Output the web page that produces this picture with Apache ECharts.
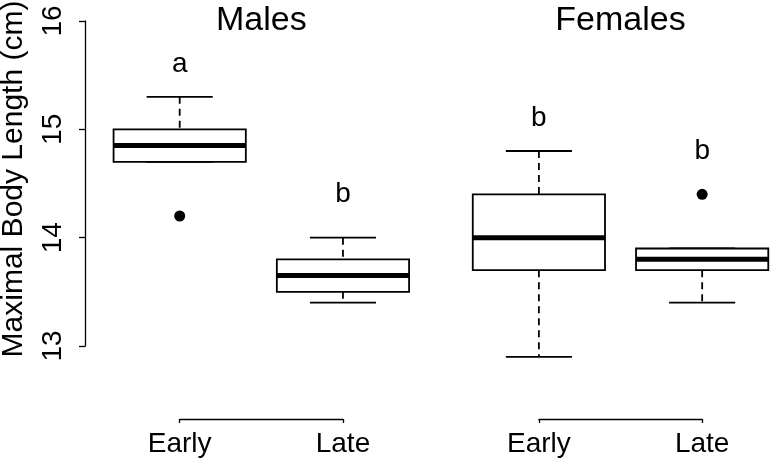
<!DOCTYPE html>
<html><head><meta charset="utf-8">
<script src="https://cdn.jsdelivr.net/npm/echarts@6/dist/echarts.min.js"></script>
<style>html,body{margin:0;padding:0;background:#fff}#c{width:774px;height:466px}</style>
</head><body><div id="c"></div>
<script>
// ---- data ----
const groups = ['Males', 'Females'];
const periods = ['Early', 'Late'];
const positions = [1, 2, 3.2, 4.2];
const whiskerLow = [14.7, 13.4, 12.9, 13.4];
const q1 = [14.7, 13.5, 13.7, 13.7];
const medians = [14.85, 13.65, 14.0, 13.8];
const q3 = [15.0, 13.8, 14.4, 13.9];
const whiskerHigh = [15.3, 14.0, 14.8, 13.9];
const outliers = [[14.2], [], [], [14.4]];
const letters = ['a', 'b', 'b', 'b'];
const letterY = [15.6, 14.4, 15.1, 14.8];
const yMin = 13, yMax = 16, yStep = 1;
const titleY = 16;
const yTitle = 'Maximal Body Length (cm)';

// ---- layout ----
const FONT = '"Liberation Sans", Arial, Helvetica, sans-serif';
const X_MIN = 0.42, X_MAX = 4.64;
const GRID_LEFT = 85, GRID_TOP = 21, GRID_H = 325, CHART_W = 774;
const BOX_W = 0.81, CAP_W = 0.405;
const ppu = (CHART_W - GRID_LEFT) / (X_MAX - X_MIN);

const chart = echarts.init(document.getElementById('c'), null, {renderer: 'canvas'});

const grids = [{left: GRID_LEFT, top: GRID_TOP, height: GRID_H, width: CHART_W - GRID_LEFT, outerBoundsMode: 'none', containLabel: false}];
const xAxes = [{gridIndex: 0, type: 'value', min: X_MIN, max: X_MAX, show: false}];
const yAxes = [{
  gridIndex: 0, type: 'value', min: yMin, max: yMax, interval: yStep,
  axisLine: {show: true, lineStyle: {color: '#000', width: 1.3}},
  axisTick: {show: true, length: 6, lineStyle: {color: '#000', width: 1.3}},
  splitLine: {show: false},
  axisLabel: {rotate: 90, fontSize: 28, margin: 18, color: '#000', fontFamily: FONT, showMinLabel: true, showMaxLabel: true}
}];
groups.forEach((g, gi) => {
  const a = positions[gi * 2], b = positions[gi * 2 + 1];
  grids.push({left: GRID_LEFT + (a - X_MIN) * ppu, width: (b - a) * ppu, top: 418, height: 1, outerBoundsMode: 'none', containLabel: false});
  xAxes.push({
    gridIndex: gi + 1, type: 'category', data: periods, boundaryGap: false,
    axisLine: {show: true, lineStyle: {color: '#000', width: 1.3}},
    axisTick: {show: true, length: 4, lineStyle: {color: '#000', width: 1.3}},
    axisLabel: {fontSize: 28, margin: 11, color: '#000', fontFamily: FONT}
  });
  yAxes.push({gridIndex: gi + 1, type: 'value', show: false});
});

const boxData = positions.map((p, i) => [p, whiskerLow[i], q1[i], medians[i], q3[i], whiskerHigh[i]]);
const outlierData = [];
outliers.forEach((arr, i) => arr.forEach(v => outlierData.push([positions[i], v])));
const letterData = positions.map((p, i) => [p, letterY[i]]);
const titleData = groups.map((g, gi) => [(positions[gi * 2] + positions[gi * 2 + 1]) / 2, titleY]);

const LW = 1.8;
function renderBox(params, api) {
  const x = api.value(0), lo = api.value(1), a = api.value(2), m = api.value(3), b = api.value(4), hi = api.value(5);
  const c = (vx, vy) => api.coord([vx, vy]);
  const children = [];
  const dash = {stroke: '#000', lineWidth: LW, lineDash: [7, 5]};
  const solid = {stroke: '#000', lineWidth: LW};
  const pHi = c(x, hi), pB = c(x, b), pA = c(x, a), pLo = c(x, lo);
  if (hi > b) children.push({type: 'line', shape: {x1: pHi[0], y1: pHi[1], x2: pB[0], y2: pB[1]}, style: dash});
  if (lo < a) children.push({type: 'line', shape: {x1: pA[0], y1: pA[1], x2: pLo[0], y2: pLo[1]}, style: dash});
  const capL1 = c(x - CAP_W / 2, hi), capR1 = c(x + CAP_W / 2, hi);
  children.push({type: 'line', shape: {x1: capL1[0], y1: capL1[1], x2: capR1[0], y2: capR1[1]}, style: solid});
  const capL2 = c(x - CAP_W / 2, lo), capR2 = c(x + CAP_W / 2, lo);
  children.push({type: 'line', shape: {x1: capL2[0], y1: capL2[1], x2: capR2[0], y2: capR2[1]}, style: solid});
  const tl = c(x - BOX_W / 2, b), br = c(x + BOX_W / 2, a);
  children.push({type: 'rect', shape: {x: tl[0], y: tl[1], width: br[0] - tl[0], height: br[1] - tl[1]}, style: {fill: '#fff', stroke: '#000', lineWidth: LW}});
  const mL = c(x - BOX_W / 2, m), mR = c(x + BOX_W / 2, m);
  children.push({type: 'line', shape: {x1: mL[0], y1: mL[1], x2: mR[0], y2: mR[1]}, style: {stroke: '#000', lineWidth: 5}});
  return {type: 'group', children};
}
function textRenderer(texts, size) {
  return function (params, api) {
    const p = api.coord([api.value(0), api.value(1)]);
    return {type: 'text', x: p[0], y: p[1], style: {text: texts[params.dataIndex], fontSize: size, fontFamily: FONT, fill: '#000', align: 'center', verticalAlign: 'middle'}};
  };
}

chart.setOption({
  animation: false,
  backgroundColor: '#fff',
  grid: grids,
  xAxis: xAxes,
  yAxis: yAxes,
  graphic: [{
    type: 'text', x: 14, y: 179, rotation: Math.PI / 2,
    style: {text: yTitle, fontSize: 30, fontFamily: FONT, fill: '#000', align: 'center', verticalAlign: 'middle'}
  }],
  series: [
    {type: 'custom', xAxisIndex: 0, yAxisIndex: 0, clip: false, data: boxData, renderItem: renderBox, encode: {x: 0, y: [1, 2, 3, 4, 5]}},
    {type: 'scatter', xAxisIndex: 0, yAxisIndex: 0, data: outlierData, symbol: 'circle', symbolSize: 11, itemStyle: {color: '#000', opacity: 1}, emphasis: {disabled: true}},
    {type: 'custom', xAxisIndex: 0, yAxisIndex: 0, clip: false, data: letterData, renderItem: textRenderer(letters, 28)},
    {type: 'custom', xAxisIndex: 0, yAxisIndex: 0, clip: false, data: titleData, renderItem: textRenderer(groups, 34)}
  ]
});
</script></body></html>
